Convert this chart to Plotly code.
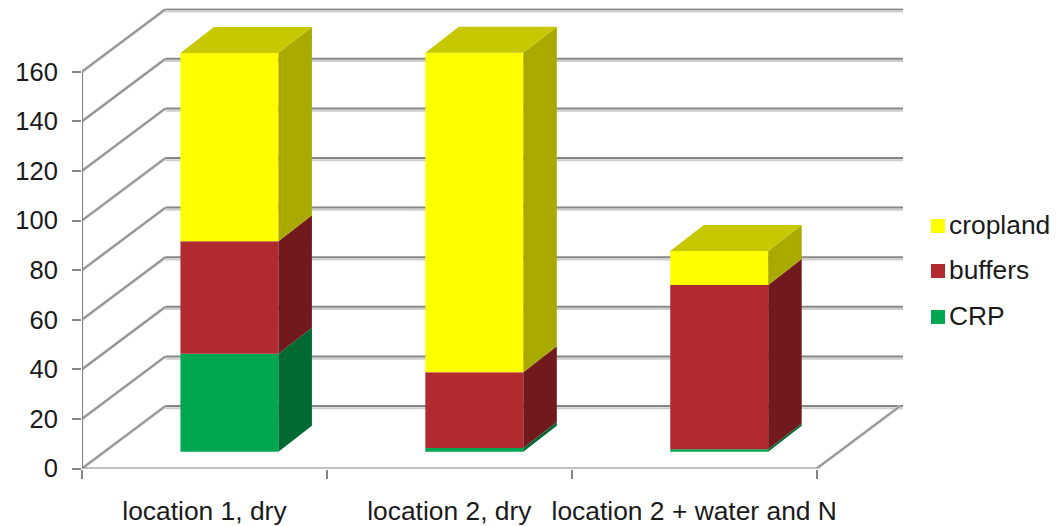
import plotly.graph_objects as go

categories = ["location 1, dry", "location 2, dry", "location 2 + water and N"]
series_names = ["CRP", "buffers", "cropland"]
crp = [39.5, 1.5, 1.0]
buffers = [45.4, 30.5, 66.2]
cropland = [75.9, 128.9, 13.7]
y_ticks = [0, 20, 40, 60, 80, 100, 120, 140, 160]

front_colors = ["#00A650", "#B02A30", "#FFFF00"]
side_colors = ["#006A32", "#71191C", "#A9A900"]
top_colors = ["#006A32", "#71191C", "#C8C800"]

W, H = 1059, 526
PX_LEFT, PX_RIGHT, PX_TOP, PX_FLOOR = 82, 903, 8.5, 468.5
PX_PER_X, PX_PER_Y = 244.9, 2.48
X_MAX = (PX_RIGHT - PX_LEFT) / PX_PER_X
Y_MAX = (PX_FLOOR - PX_TOP) / PX_PER_Y
WALL_DX, WALL_DY = 83.5 / PX_PER_X, 62.5 / PX_PER_Y
BAR_DX, BAR_DY = 33.5 / PX_PER_X, 26 / PX_PER_Y
BAR_LIFT = 16.8 / PX_PER_Y
BAR_W, BAR_SHIFT = 0.4, 0.602
GRID, SHADOW = "#868686", "#cfcfcf"

fig = go.Figure()


def line(xs, ys, color, width, axis=("x", "y")):
    fig.add_trace(go.Scatter(x=xs, y=ys, mode="lines", line=dict(color=color, width=width),
                             hoverinfo="skip", showlegend=False, cliponaxis=False,
                             xaxis=axis[0], yaxis=axis[1]))


n = len(categories)
# back wall and left wall grid
for v in y_ticks:
    line([WALL_DX, X_MAX], [v + WALL_DY - 0.9, v + WALL_DY - 0.9], SHADOW, 2)
for v in y_ticks:
    line([WALL_DX, X_MAX], [v + WALL_DY, v + WALL_DY], GRID, 2)
    line([0, WALL_DX], [v, v + WALL_DY], "#c4c4c4", 3)
    line([0, WALL_DX], [v, v + WALL_DY], "#8e8e8e", 1.5)
# floor
line([0, n], [-0.9, -0.9], "#dedede", 2.5)
line([0, n], [0, 0], GRID, 2)
line([n, n + WALL_DX], [0, WALL_DY], "#c4c4c4", 3)
line([n, n + WALL_DX], [0, WALL_DY], "#8e8e8e", 1.5)
line([0, 0], [0, y_ticks[-1]], GRID, 2.2)

# bars
stacks = [crp, buffers, cropland]
centers = [i + BAR_SHIFT for i in range(n)]
bases = [BAR_LIFT] * n
for s, vals in enumerate(stacks):
    fig.add_trace(go.Bar(x=centers, y=vals, base=list(bases), width=BAR_W, name=series_names[s],
                         marker=dict(color=front_colors[s], line=dict(width=0)),
                         showlegend=False, xaxis="x2", yaxis="y2"))
    for i in range(n):
        x1 = centers[i] + BAR_W / 2
        b, t = bases[i], bases[i] + vals[i]
        fig.add_trace(go.Scatter(
            x=[x1, x1 + BAR_DX, x1 + BAR_DX, x1, x1],
            y=[b, b + BAR_DY, t + BAR_DY, t, b],
            mode="lines", fill="toself", fillcolor=side_colors[s], line=dict(width=0),
            hoverinfo="skip", showlegend=False, xaxis="x2", yaxis="y2"))
    bases = [bases[i] + vals[i] for i in range(n)]
for i in range(n):
    x0, x1 = centers[i] - BAR_W / 2, centers[i] + BAR_W / 2
    T = bases[i]
    fig.add_trace(go.Scatter(
        x=[x0, x0 + BAR_DX, x1 + BAR_DX, x1, x0],
        y=[T, T + BAR_DY, T + BAR_DY, T, T],
        mode="lines", fill="toself", fillcolor=top_colors[2], line=dict(width=0),
        hoverinfo="skip", showlegend=False, xaxis="x2", yaxis="y2"))

# legend
for s, py in zip([2, 1, 0], [226, 271, 317]):
    fig.add_trace(go.Scatter(
        x=[938], y=[py], mode="markers",
        marker=dict(symbol="square", size=14, color=front_colors[s], line=dict(width=0)),
        hoverinfo="skip", showlegend=False, xaxis="x3", yaxis="y3", cliponaxis=False))
    fig.add_trace(go.Scatter(
        x=[949], y=[py + 1.5], mode="text", text=[series_names[s]],
        textposition="middle right", textfont=dict(size=26.4, color="#1a1a1a"),
        hoverinfo="skip", showlegend=False, xaxis="x3", yaxis="y3", cliponaxis=False))

dom_x = [PX_LEFT / W, PX_RIGHT / W]
dom_y = [1 - PX_FLOOR / H, 1 - PX_TOP / H]
fig.update_layout(
    width=W, height=H, autosize=False, margin=dict(l=0, r=0, t=0, b=0),
    paper_bgcolor="white", plot_bgcolor="rgba(0,0,0,0)", barmode="overlay",
    showlegend=False,
    font=dict(family="Liberation Sans, Arial, sans-serif", size=25, color="#1a1a1a"),
    xaxis=dict(domain=dom_x, range=[0, X_MAX], tickmode="array", automargin=False,
               tickvals=[i + 0.5 for i in range(n)], ticktext=categories,
               ticks="", showgrid=False, zeroline=False, showline=False,
               ticklabelstandoff=24, tickfont=dict(size=26.4, color="#1a1a1a"),
               minor=dict(tickmode="array", tickvals=list(range(n + 1)), ticks="outside",
                          ticklen=9, tickwidth=2, tickcolor=GRID, showgrid=False)),
    yaxis=dict(domain=dom_y, range=[0, Y_MAX], tickmode="array", tickvals=y_ticks, automargin=False,
               ticks="outside", ticklen=9, tickwidth=2, tickcolor=GRID,
               showgrid=False, zeroline=False, showline=False, ticklabelstandoff=9,
               tickfont=dict(size=25.5, color="#1a1a1a")),
    xaxis2=dict(overlaying="x", range=[0, X_MAX], visible=False, anchor="y2", automargin=False),
    yaxis2=dict(overlaying="y", range=[0, Y_MAX], visible=False, anchor="x2", automargin=False),
    xaxis3=dict(domain=[0, 1], range=[0, W], visible=False, anchor="y3", automargin=False),
    yaxis3=dict(domain=[0, 1], range=[H, 0], visible=False, anchor="x3", automargin=False),
)
fig.write_html("out.html", config=dict(displayModeBar=False),
               post_script="document.body.style.margin='0';document.body.style.overflow='hidden';")
